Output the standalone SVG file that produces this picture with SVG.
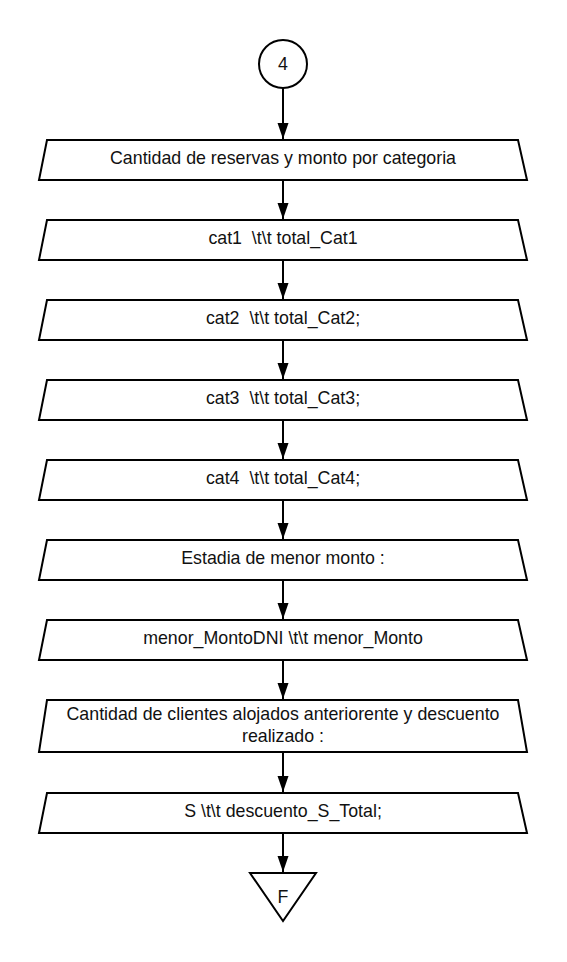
<svg xmlns="http://www.w3.org/2000/svg" width="567" height="962" viewBox="0 0 567 962">
<style>
.s{fill:#fff;stroke:#000;stroke-width:2}
.t{font-family:"Liberation Sans",Arial,sans-serif;font-size:17.8px;fill:#111;text-anchor:middle}
.c{fill:none;stroke:#000;stroke-width:2}
</style>
<defs>
<marker id="ah" markerWidth="18" markerHeight="12" refX="16" refY="6" orient="auto" markerUnits="userSpaceOnUse" viewBox="0 0 18 12">
<path d="M0,0.5 L16,6 L0,11.5 Z" fill="#000"/>
</marker>
</defs>
<rect width="567" height="962" fill="#fff"/>
<g id="connectors">
<line class="c" x1="283" y1="88" x2="283" y2="139" marker-end="url(#ah)"/>
<line class="c" x1="283" y1="180" x2="283" y2="219" marker-end="url(#ah)"/>
<line class="c" x1="283" y1="260" x2="283" y2="299" marker-end="url(#ah)"/>
<line class="c" x1="283" y1="340" x2="283" y2="379" marker-end="url(#ah)"/>
<line class="c" x1="283" y1="420" x2="283" y2="459" marker-end="url(#ah)"/>
<line class="c" x1="283" y1="500" x2="283" y2="539" marker-end="url(#ah)"/>
<line class="c" x1="283" y1="580" x2="283" y2="619" marker-end="url(#ah)"/>
<line class="c" x1="283" y1="660" x2="283" y2="699" marker-end="url(#ah)"/>
<line class="c" x1="283" y1="752" x2="283" y2="792" marker-end="url(#ah)"/>
<line class="c" x1="283" y1="833" x2="283" y2="872" marker-end="url(#ah)"/>
</g>
<g id="start">
<circle class="s" cx="283" cy="64" r="24"/>
<text class="t" x="283" y="70">4</text>
</g>
<g id="n1">
<polygon class="s" points="47,140 518,140 527,180 39,180"/>
<text class="t" x="283" y="164">Cantidad de reservas y monto por categoria</text>
</g>
<g id="n2">
<polygon class="s" points="47,220 518,220 527,260 39,260"/>
<text class="t" x="283" y="244" xml:space="preserve">cat1  \t\t total_Cat1</text>
</g>
<g id="n3">
<polygon class="s" points="47,300 518,300 527,340 39,340"/>
<text class="t" x="283" y="324" xml:space="preserve">cat2  \t\t total_Cat2;</text>
</g>
<g id="n4">
<polygon class="s" points="47,380 518,380 527,420 39,420"/>
<text class="t" x="283" y="404" xml:space="preserve">cat3  \t\t total_Cat3;</text>
</g>
<g id="n5">
<polygon class="s" points="47,460 518,460 527,500 39,500"/>
<text class="t" x="283" y="484" xml:space="preserve">cat4  \t\t total_Cat4;</text>
</g>
<g id="n6">
<polygon class="s" points="47,540 518,540 527,580 39,580"/>
<text class="t" x="283" y="564">Estadia de menor monto :</text>
</g>
<g id="n7">
<polygon class="s" points="47,620 518,620 527,660 39,660"/>
<text class="t" x="283" y="644">menor_MontoDNI \t\t menor_Monto</text>
</g>
<g id="n8">
<polygon class="s" points="47,700 518,700 527,752 39,752"/>
<text class="t" x="283" y="720">Cantidad de clientes alojados anteriorente y descuento</text>
<text class="t" x="283" y="742">realizado :</text>
</g>
<g id="n9">
<polygon class="s" points="47,793 518,793 527,833 39,833"/>
<text class="t" x="283" y="817">S \t\t descuento_S_Total;</text>
</g>
<g id="end">
<polygon class="s" points="250,873 316,873 283,921"/>
<text class="t" x="283" y="903">F</text>
</g>
</svg>
